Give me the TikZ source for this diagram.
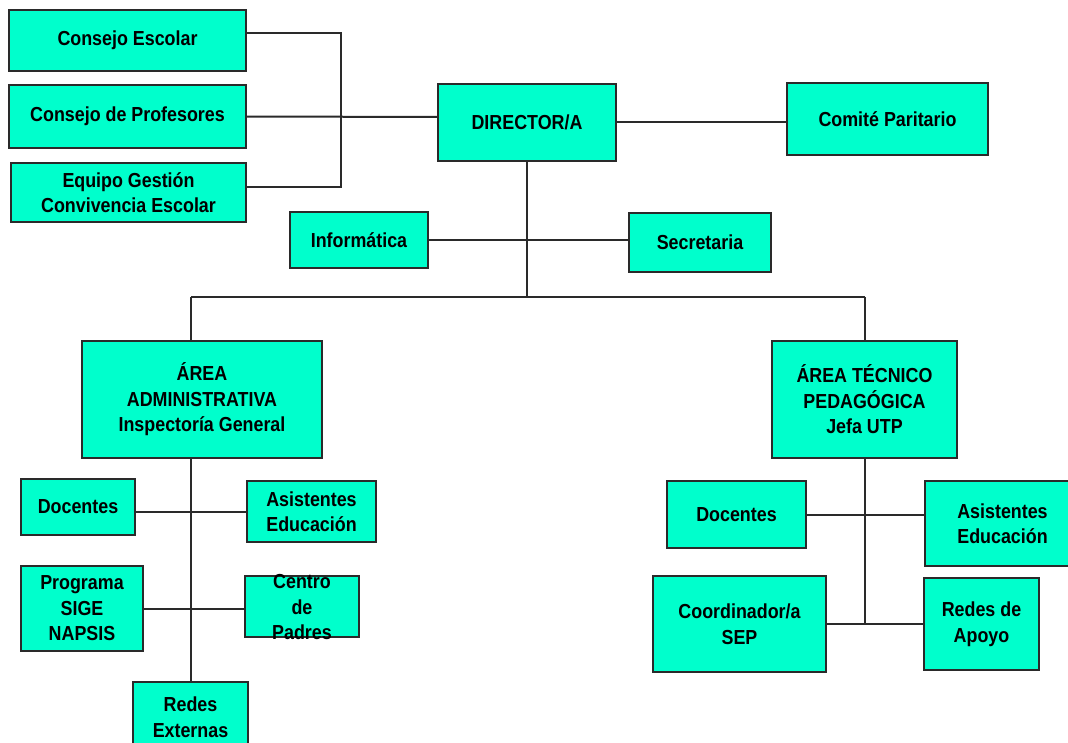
\documentclass[tikz,border=0pt]{standalone}
\usepackage{fontspec}
\setmainfont{Liberation Sans}[FakeStretch=0.88]
\usetikzlibrary{calc}
\definecolor{boxfill}{HTML}{00FFCC}
\definecolor{edge}{HTML}{2A2A2A}
\tikzset{
  orgbox/.style={draw=edge, line width=2pt, fill=boxfill, inner sep=0pt, outer sep=0pt,
    align=center, font=\fontsize{20.3}{25.5}\selectfont\bfseries},
  orgtext/.style={inner sep=0pt, align=center, font=\fontsize{20.3}{25.5}\selectfont\bfseries},
  link/.style={draw=edge, line width=2pt}
}
% \bx{name}{x1}{y1}{x2}{y2}{text}
\newcommand{\bx}[6]{%
  \node[orgbox, minimum width={#4-#2}, minimum height={#5-#3}] (#1) at ({(#2+#4)/2},{(#3+#5)/2}) {#6};}
\begin{document}
\begin{tikzpicture}[x=1pt,y=-1pt]
\useasboundingbox (0,0) rectangle (1068,743);
\fill[white] (0,0) rectangle (1068,743);
\clip (0,0) rectangle (1068,743);
% top left group
\bx{ce}{9}{10}{246}{71}{Consejo Escolar}
\bx{cp}{9}{85}{246}{148}{Consejo de Profesores}
\bx{eq}{11}{163}{246}{222}{Equipo Gestión\\Convivencia Escolar}
\bx{dir}{438}{84}{616}{161}{DIRECTOR/A}
\bx{com}{787}{83}{988}{155}{Comité Paritario}
\bx{inf}{290}{212}{428}{268}{Informática}
\bx{sec}{629}{213}{771}{272}{Secretaria}
% areas
\bx{adm}{82}{341}{322}{458}{ÁREA\\ADMINISTRATIVA\\Inspectoría General}
\bx{tec}{772}{341}{957}{458}{ÁREA TÉCNICO\\PEDAGÓGICA\\Jefa UTP}
% left branch
\bx{doca}{21}{479}{135}{535}{Docentes}
\bx{asia}{247}{481}{376}{542}{Asistentes\\Educación}
\bx{prog}{21}{566}{143}{651}{Programa\\SIGE\\NAPSIS}
\bx{cen}{245}{576}{359}{637}{}
\node[orgtext] (centxt) at (302,607.5) {Centro\\de\\Padres};
\bx{rext}{133}{682}{248}{752}{Redes\\Externas}
% right branch
\bx{docb}{667}{481}{806}{548}{Docentes}
\bx{asib}{925}{481}{1080}{566}{Asistentes\\Educación}
\bx{coo}{653}{576}{826}{672}{Coordinador/a\\SEP}
\bx{rap}{924}{578}{1039}{670}{Redes de\\Apoyo}
% connectors top
\coordinate (brk) at (341,117);
\draw[link] ([yshift=7.5pt]ce.east) -| (brk);
\draw[link] ([yshift=5.5pt]eq.east) -| (brk);
\draw[link] (cp.east) -- ([yshift=5.5pt]dir.west);
\draw[link] (dir.east) -- (dir.east -| com.west);
\draw[link] (inf.east) -- (inf.east -| sec.west);
\coordinate (hub) at (527,297);
\coordinate (hl) at (191,297);
\coordinate (hr) at (865,297);
\draw[link] (dir.south -| hub) -- (hub);
\draw[link] (hl) -- (hr);
\draw[link] (hl) -- (adm.north -| hl);
\draw[link] (hr) -- (tec.north -| hr);
% left branch connectors
\draw[link] (adm.south -| rext.north) -- (rext.north);
\draw[link] (doca.east |- asia.west) -- (asia.west);
\draw[link] (prog.east) -- (prog.east -| cen.west);
% right branch connectors
\draw[link] (tec.south) -- (tec.south |- coo.east);
\draw[link] (docb.east) -- (docb.east -| asib.west);
\draw[link] (coo.east) -- (coo.east -| rap.west);
\end{tikzpicture}
\end{document}
